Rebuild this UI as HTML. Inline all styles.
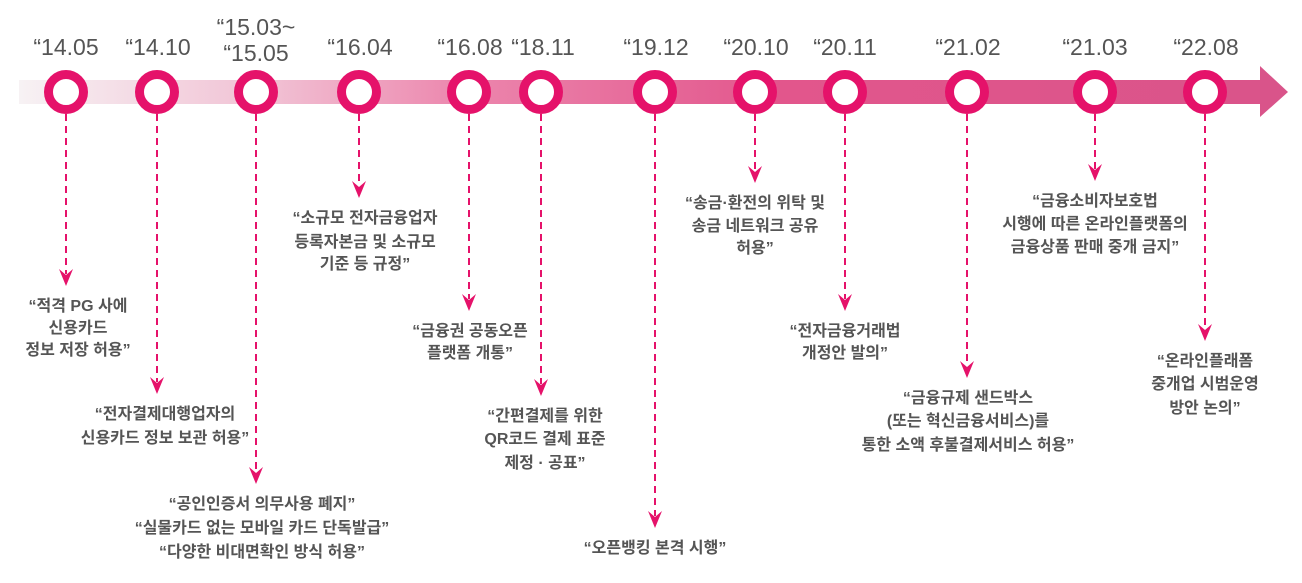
<!DOCTYPE html>
<html><head><meta charset="utf-8"><style>
html,body{margin:0;padding:0;background:#fff;}
svg{display:block;}
.d{font-family:"Liberation Sans","Noto Sans CJK KR",sans-serif;font-size:23px;fill:#555;text-anchor:middle;}
.t{font-family:"Liberation Sans","Noto Sans CJK KR",sans-serif;font-size:16px;font-weight:bold;fill:#555;text-anchor:middle;}
</style></head><body>
<svg width="1302" height="583" viewBox="0 0 1302 583" xmlns="http://www.w3.org/2000/svg">
<defs>
<linearGradient id="g" x1="19" y1="0" x2="1288" y2="0" gradientUnits="userSpaceOnUse">
<stop offset="0" stop-color="#f7f2f4"/>
<stop offset="0.2" stop-color="#f1c0d3"/>
<stop offset="0.35" stop-color="#ec86ad"/>
<stop offset="0.6" stop-color="#e2568c"/>
<stop offset="1" stop-color="#d9548a"/>
</linearGradient>
<g id="ah"><path d="M-7,-17 L0,-11 L7,-17 L0,0 Z" fill="#e5126a"/></g>
</defs>
<rect x="19" y="80" width="1243" height="24" fill="url(#g)"/>
<path d="M1260,66 L1288,92 L1260,117 Z" fill="#d9548a"/>

<g stroke="#e5126a" stroke-width="2" stroke-dasharray="7,5" fill="none">
<line x1="66" y1="114" x2="66" y2="274"/>
<line x1="157" y1="114" x2="157" y2="382"/>
<line x1="256" y1="114" x2="256" y2="472"/>
<line x1="359" y1="114" x2="359" y2="186"/>
<line x1="469" y1="114" x2="469" y2="299"/>
<line x1="541" y1="114" x2="541" y2="384"/>
<line x1="655" y1="114" x2="655" y2="516"/>
<line x1="755" y1="114" x2="755" y2="171"/>
<line x1="845" y1="114" x2="845" y2="299"/>
<line x1="967" y1="114" x2="967" y2="366"/>
<line x1="1095" y1="114" x2="1095" y2="169"/>
<line x1="1205" y1="114" x2="1205" y2="329"/>
</g>
<use href="#ah" x="66" y="286"/>
<use href="#ah" x="157" y="394"/>
<use href="#ah" x="256" y="484"/>
<use href="#ah" x="359" y="198"/>
<use href="#ah" x="469" y="311"/>
<use href="#ah" x="541" y="396"/>
<use href="#ah" x="655" y="528"/>
<use href="#ah" x="755" y="183"/>
<use href="#ah" x="845" y="311"/>
<use href="#ah" x="967" y="378"/>
<use href="#ah" x="1095" y="181"/>
<use href="#ah" x="1205" y="341"/>

<g fill="#fff" stroke="#e5126a" stroke-width="9">
<circle cx="66" cy="92" r="17.5"/>
<circle cx="157" cy="92" r="17.5"/>
<circle cx="256" cy="92" r="17.5"/>
<circle cx="359" cy="92" r="17.5"/>
<circle cx="469" cy="92" r="17.5"/>
<circle cx="541" cy="92" r="17.5"/>
<circle cx="655" cy="92" r="17.5"/>
<circle cx="755" cy="92" r="17.5"/>
<circle cx="845" cy="92" r="17.5"/>
<circle cx="967" cy="92" r="17.5"/>
<circle cx="1095" cy="92" r="17.5"/>
<circle cx="1205" cy="92" r="17.5"/>
</g>

<text class="d" x="66" y="55">“14.05</text>
<text class="d" x="158" y="55">“14.10</text>
<text class="d" x="256" y="35">“15.03~</text>
<text class="d" x="256" y="61">“15.05</text>
<text class="d" x="360" y="55">“16.04</text>
<text class="d" x="470" y="55">“16.08</text>
<text class="d" x="543" y="55">“18.11</text>
<text class="d" x="656" y="55">“19.12</text>
<text class="d" x="756" y="55">“20.10</text>
<text class="d" x="845" y="55">“20.11</text>
<text class="d" x="968" y="55">“21.02</text>
<text class="d" x="1095" y="55">“21.03</text>
<text class="d" x="1206" y="55">“22.08</text>

<text class="t" x="78" y="311">“적격 PG 사에</text>
<text class="t" x="78" y="333">신용카드</text>
<text class="t" x="78" y="355">정보 저장 허용”</text>

<text class="t" x="165" y="419">“전자결제대행업자의</text>
<text class="t" x="165" y="443">신용카드 정보 보관 허용”</text>

<text class="t" x="262" y="509">“공인인증서 의무사용 폐지”</text>
<text class="t" x="262" y="533">“실물카드 없는 모바일 카드 단독발급”</text>
<text class="t" x="262" y="557">“다양한 비대면확인 방식 허용”</text>

<text class="t" x="365" y="223">“소규모 전자금융업자</text>
<text class="t" x="365" y="247">등록자본금 및 소규모</text>
<text class="t" x="365" y="269">기준 등 규정”</text>

<text class="t" x="470" y="336">“금융권 공동오픈</text>
<text class="t" x="470" y="358">플랫폼 개통”</text>

<text class="t" x="545" y="421">“간편결제를 위한</text>
<text class="t" x="545" y="444">QR코드 결제 표준</text>
<text class="t" x="545" y="468">제정 · 공표”</text>

<text class="t" x="655" y="553">“오픈뱅킹 본격 시행”</text>

<text class="t" x="755" y="208">“송금·환전의 위탁 및</text>
<text class="t" x="755" y="231">송금 네트워크 공유</text>
<text class="t" x="755" y="253">허용”</text>

<text class="t" x="845" y="336">“전자금융거래법</text>
<text class="t" x="845" y="358">개정안 발의”</text>

<text class="t" x="968" y="403">“금융규제 샌드박스</text>
<text class="t" x="968" y="426">(또는 혁신금융서비스)를</text>
<text class="t" x="968" y="450">통한 소액 후불결제서비스 허용”</text>

<text class="t" x="1095" y="206">“금융소비자보호법</text>
<text class="t" x="1095" y="229">시행에 따른 온라인플랫폼의</text>
<text class="t" x="1095" y="252">금융상품 판매 중개 금지”</text>

<text class="t" x="1205" y="366">“온라인플래폼</text>
<text class="t" x="1205" y="389">중개업 시범운영</text>
<text class="t" x="1205" y="413">방안 논의”</text>
</svg>
</body></html>
